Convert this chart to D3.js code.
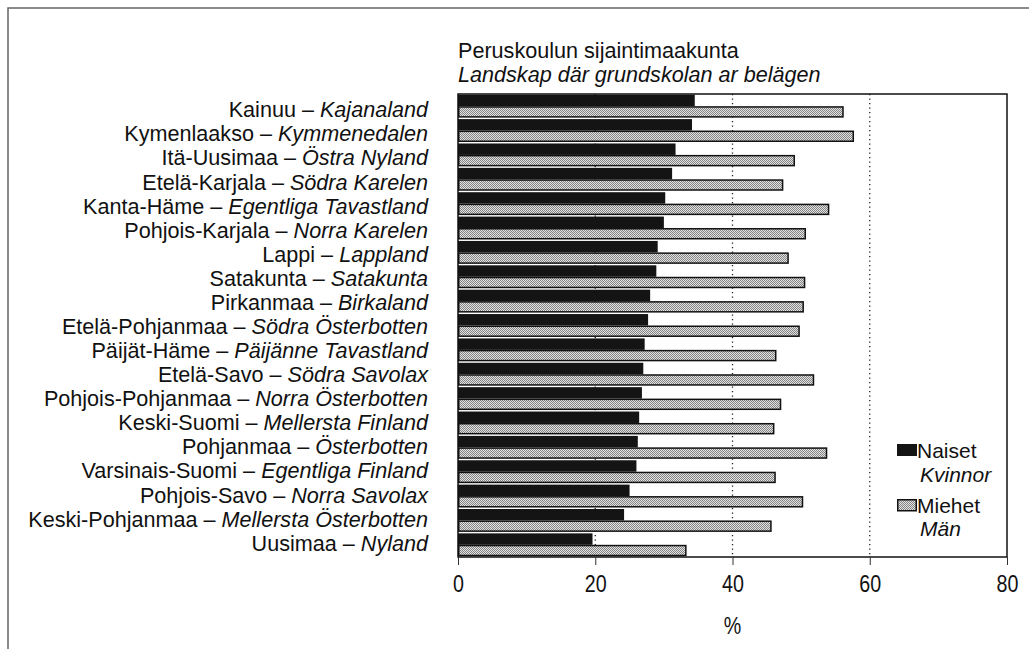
<!DOCTYPE html>
<html>
<head>
<meta charset="utf-8">
<script src="https://cdn.jsdelivr.net/npm/d3@7/dist/d3.min.js"></script>
<style>
  body { margin: 0; background: #fff; }
  text { font-family: "Liberation Sans", Arial, sans-serif; fill: #111; }
</style>
</head>
<body>
<div id="chart"></div>
<script>
// regions, Finnish and Swedish names (top to bottom)
var regionsFi = ["Kainuu", "Kymenlaakso", "Itä-Uusimaa", "Etelä-Karjala", "Kanta-Häme",
  "Pohjois-Karjala", "Lappi", "Satakunta", "Pirkanmaa", "Etelä-Pohjanmaa", "Päijät-Häme",
  "Etelä-Savo", "Pohjois-Pohjanmaa", "Keski-Suomi", "Pohjanmaa", "Varsinais-Suomi",
  "Pohjois-Savo", "Keski-Pohjanmaa", "Uusimaa"];
var regionsSv = ["Kajanaland", "Kymmenedalen", "Östra Nyland", "Södra Karelen", "Egentliga Tavastland",
  "Norra Karelen", "Lappland", "Satakunta", "Birkaland", "Södra Österbotten", "Päijänne Tavastland",
  "Södra Savolax", "Norra Österbotten", "Mellersta Finland", "Österbotten", "Egentliga Finland",
  "Norra Savolax", "Mellersta Österbotten", "Nyland"];

// % values
var naiset = [34.5, 34.1, 31.7, 31.2, 30.2, 30.0, 29.1, 28.9, 28.0, 27.7, 27.2,
  27.0, 26.8, 26.4, 26.2, 26.0, 25.0, 24.2, 19.6];
var miehet = [56.1, 57.6, 49.0, 47.3, 54.0, 50.6, 48.1, 50.5, 50.3, 49.7, 46.3,
  51.8, 47.0, 46.0, 53.7, 46.2, 50.2, 45.6, 33.2];

var xTicks = [0, 20, 40, 60, 80];
var gridValues = [20, 40, 60];

var svgWidth = 1029, svgHeight = 649;
var plot = { left: 458, right: 1007, top: 94, bottom: 557 };

var svg = d3.select("#chart").append("svg")
  .attr("width", svgWidth)
  .attr("height", svgHeight);

// pattern for the men's bars
var defs = svg.append("defs");
var pat = defs.append("pattern")
  .attr("id", "menPat")
  .attr("patternUnits", "userSpaceOnUse")
  .attr("width", 2).attr("height", 2);
pat.append("rect").attr("width", 2).attr("height", 2).attr("fill", "#e2e2e2");
pat.append("rect").attr("width", 1).attr("height", 1).attr("fill", "#848484");
pat.append("rect").attr("x", 1).attr("y", 1).attr("width", 1).attr("height", 1).attr("fill", "#848484");

// outer frame (top and left edges visible)
svg.append("path")
  .attr("d", "M8,649 L8,8 L1029,8")
  .attr("fill", "none")
  .attr("stroke", "#666")
  .attr("stroke-width", 1.5);

var x = d3.scaleLinear().domain([0, 80]).range([plot.left, plot.right]);
var y = d3.scaleBand().domain(regionsFi).range([plot.top, plot.bottom])
  .paddingInner(0.06).paddingOuter(0.03);
var ySub = d3.scaleBand().domain(["naiset", "miehet"]).range([0, y.bandwidth()]);
var yLabel = d3.scalePoint().domain(regionsFi).range([117.3, 550.7]);

// dotted gridlines
svg.append("g").selectAll("line")
  .data(gridValues)
  .enter().append("line")
  .attr("x1", d => x(d)).attr("x2", d => x(d))
  .attr("y1", plot.top).attr("y2", plot.bottom)
  .attr("stroke", "#222")
  .attr("stroke-width", 1.3)
  .attr("stroke-dasharray", "1.3,3.2");

var rows = regionsFi.map(function(r, i) {
  return { fi: r, sv: regionsSv[i], n: naiset[i], m: miehet[i] };
});

var barG = svg.append("g");
barG.selectAll("rect.naiset")
  .data(rows)
  .enter().append("rect")
  .attr("class", "naiset")
  .attr("x", x(0))
  .attr("y", d => y(d.fi) + ySub("naiset"))
  .attr("width", d => x(d.n) - x(0))
  .attr("height", ySub.bandwidth())
  .attr("fill", "#141414");

barG.selectAll("rect.miehet")
  .data(rows)
  .enter().append("rect")
  .attr("class", "miehet")
  .attr("x", x(0) + 0.75)
  .attr("y", d => y(d.fi) + ySub("miehet") + 0.75)
  .attr("width", d => x(d.m) - x(0) - 0.75)
  .attr("height", ySub.bandwidth() - 1.5)
  .attr("fill", "url(#menPat)")
  .attr("stroke", "#111")
  .attr("stroke-width", 1.5);

// plot frame
svg.append("rect")
  .attr("x", plot.left).attr("y", plot.top)
  .attr("width", plot.right - plot.left)
  .attr("height", plot.bottom - plot.top)
  .attr("fill", "none")
  .attr("stroke", "#111")
  .attr("stroke-width", 1.5);

// x axis (condensed-looking digits)
var xAxis = svg.append("g")
  .attr("transform", `translate(0, ${plot.bottom})`)
  .call(d3.axisBottom(x).tickValues(xTicks).tickSize(8).tickPadding(10).tickFormat(d3.format("d")));
xAxis.select(".domain").remove();
xAxis.selectAll(".tick line").attr("stroke", "#333");
xAxis.selectAll(".tick text")
  .attr("font-size", 24)
  .attr("transform", "scale(0.82,1)")
  .attr("fill", "#111");

svg.append("text")
  .attr("transform", `translate(${x(40)}, 634) scale(0.82,1)`)
  .attr("text-anchor", "middle")
  .attr("font-size", 24)
  .text("%");

// category labels
var labels = svg.append("g").selectAll("text")
  .data(rows)
  .enter().append("text")
  .attr("x", 428)
  .attr("y", d => yLabel(d.fi))
  .attr("text-anchor", "end")
  .attr("font-size", 21.6);
labels.append("tspan").text(d => d.fi + " – ");
labels.append("tspan").attr("font-style", "italic").text(d => d.sv);

// title
svg.append("text")
  .attr("x", plot.left).attr("y", 58)
  .attr("font-size", 21.6)
  .text("Peruskoulun sijaintimaakunta");
svg.append("text")
  .attr("x", plot.left).attr("y", 82)
  .attr("font-size", 21.6)
  .attr("font-style", "italic")
  .text("Landskap där grundskolan ar belägen");

// legend
var legend = svg.append("g");
legend.append("rect")
  .attr("x", 897).attr("y", 444).attr("width", 20).attr("height", 12)
  .attr("fill", "#141414");
legend.append("rect")
  .attr("x", 897.75).attr("y", 499.75).attr("width", 18.5).attr("height", 11)
  .attr("fill", "url(#menPat)")
  .attr("stroke", "#111").attr("stroke-width", 1.5);
legend.append("text").attr("x", 917).attr("y", 458).attr("font-size", 21).text("Naiset");
legend.append("text").attr("x", 920).attr("y", 482).attr("font-size", 21)
  .attr("font-style", "italic").text("Kvinnor");
legend.append("text").attr("x", 917).attr("y", 513).attr("font-size", 21).text("Miehet");
legend.append("text").attr("x", 920).attr("y", 536).attr("font-size", 21)
  .attr("font-style", "italic").text("Män");
</script>
</body>
</html>
